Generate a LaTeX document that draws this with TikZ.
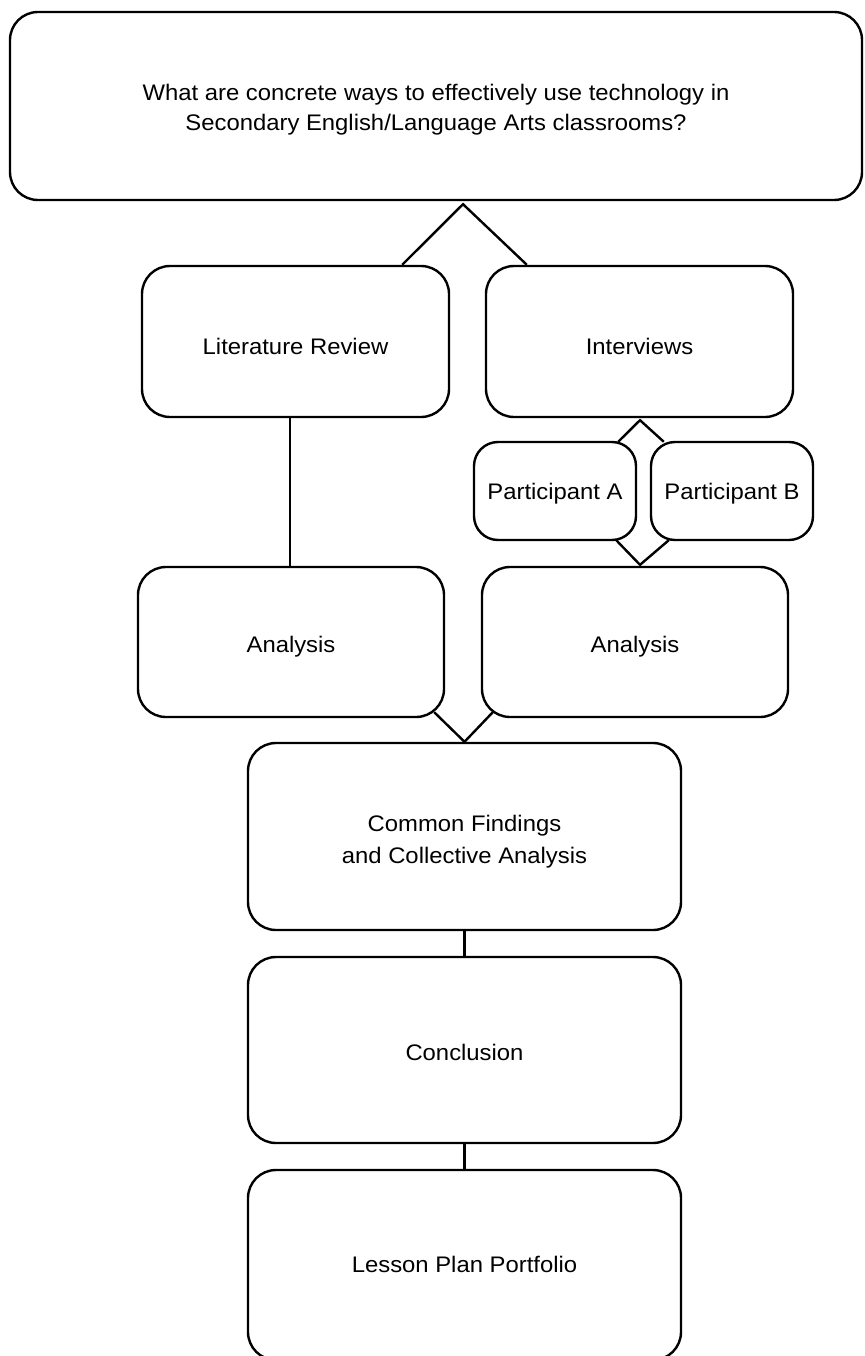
\documentclass[tikz,border=0pt]{standalone}
\usepackage{fontspec}
\setmainfont{Liberation Sans}[FakeStretch=1.06]
\usetikzlibrary{calc}
\newcommand{\lowered}[2]{\raisebox{-#1pt}[0pt][0pt]{#2}}
\begin{document}
\begin{tikzpicture}[x=1pt,y=-1pt,
  box/.style={draw,line width=2.4pt,rounded corners=28pt,align=center,inner sep=0pt,
    font=\fontsize{22.5}{30}\selectfont},
  smallbox/.style={box,rounded corners=24pt},
  conn/.style={line width=2.4pt}]
\useasboundingbox (0,0) rectangle (864,1356);
\node[box,minimum width=852pt,minimum height=188pt] (q) at (436,106)
  {\lowered{9}{\begin{tabular}{@{}c@{}}What are concrete ways to effectively use technology in\\[0pt]Secondary English/Language Arts classrooms?\end{tabular}}};
\node[box,minimum width=307pt,minimum height=151pt] (lit) at (295.5,341.5) {\lowered{13}{Literature Review}};
\node[box,minimum width=307pt,minimum height=151pt] (iv) at (639.5,341.5) {\lowered{13}{Interviews}};
\node[smallbox,minimum width=162pt,minimum height=98pt] (pa) at (555,491) {\lowered{8}{Participant A}};
\node[smallbox,minimum width=162pt,minimum height=98pt] (pb) at (732,491) {\lowered{8}{Participant B}};
\node[box,minimum width=306pt,minimum height=150pt] (al) at (291,642) {\lowered{10}{Analysis}};
\node[box,minimum width=306pt,minimum height=150pt] (ar) at (635,642) {\lowered{10}{Analysis}};
\node[box,minimum width=433pt,minimum height=187pt] (cf) at (464.5,836.5) {\lowered{10.5}{\begin{tabular}{@{}c@{}}Common Findings\\[2pt]and Collective Analysis\end{tabular}}};
\node[box,minimum width=433pt,minimum height=186pt] (cc) at (464.5,1050) {\lowered{10}{Conclusion}};
\node[box,minimum width=433pt,minimum height=190pt] (lp) at (464.5,1265) {\lowered{7}{Lesson Plan Portfolio}};
% top diamond
\coordinate (apex1) at ($(q.south)+(27,3)$);
\draw[conn] ($(lit.north east)+(-48,0)$) -- (apex1) -- ($(iv.north west)+(42,0)$);
% interview / participants
\coordinate (apex2) at ($(iv.south)+(0.5,2)$);
\draw[conn] ($(pa.north east)+(-19,1)$) -- (apex2) -- ($(pb.north west)+(14,1)$);
\coordinate (apex3) at ($(ar.north)+(5,-1)$);
\draw[conn] ($(pa.south east)+(-21,-1)$) -- (apex3) -- ($(pb.south west)+(19,-1)$);
% literature to analysis
\draw[conn] (lit.south -| 290,0) -- (al.north -| 290,0);
% analyses to common findings
\draw[conn] ($(al.south east)+(-11,-6)$) -- (cf.north) -- ($(ar.south west)+(12,-6)$);
% vertical chain
\draw[conn] (cf.south) -- (cc.north);
\draw[conn] (cc.south) -- (lp.north);
\end{tikzpicture}
\end{document}
